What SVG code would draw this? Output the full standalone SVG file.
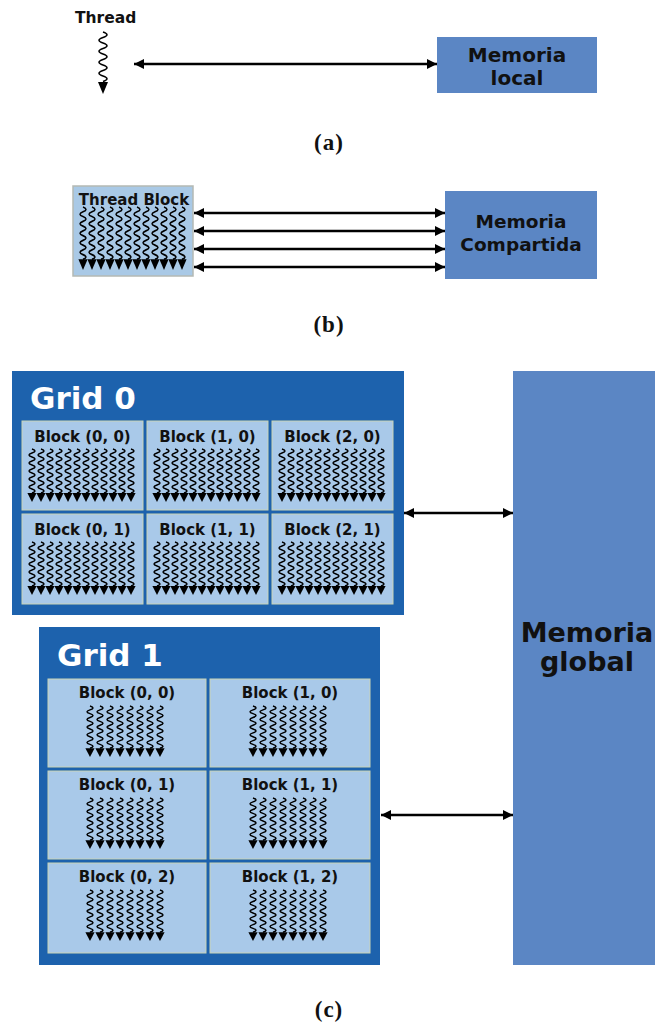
<svg xmlns="http://www.w3.org/2000/svg" xmlns:xlink="http://www.w3.org/1999/xlink" width="659" height="1024" viewBox="0 0 659 1024">
<style>
.lbl{font-family:"DejaVu Sans",Verdana,sans-serif;font-weight:bold;fill:#111;}
.mem{fill:#5b86c4;}
.grid{fill:#1d62ad;}
.blk{fill:#a9c9e9;stroke:#c9d3b6;stroke-width:1;}
.gt{font-family:"DejaVu Sans",Verdana,sans-serif;font-weight:bold;fill:#fff;font-size:31px;}
.cap{font-family:"Liberation Serif","Times New Roman",serif;font-weight:bold;font-size:23px;fill:#111;text-anchor:middle;letter-spacing:1px;}
.conn{stroke:#000;stroke-width:2.4;fill:none;marker-start:url(#ah);marker-end:url(#ah);}
.sq{stroke:#000;stroke-width:1.5;fill:none;}
.bt{font-size:15px;text-anchor:middle;}
</style>
<defs>
<marker id="ah" viewBox="0 0 10 10" refX="10" refY="5" markerWidth="12" markerHeight="10" markerUnits="userSpaceOnUse" orient="auto-start-reverse"><path d="M0,0 L10,5 L0,10 z" fill="#000"/></marker>
<g id="wv">
<path class="sq" d="M0,0 q6,2 0,4 t0,4 t0,4 t0,4 t0,4 t0,4 t0,4 t0,4 t0,4 t0,4 t0,4"/>
<path d="M-4.6,44 h9.2 l-4.6,9 z" fill="#000"/>
</g>
<g id="w12">
<use xlink:href="#wv" x="0"/><use xlink:href="#wv" x="9"/><use xlink:href="#wv" x="18"/><use xlink:href="#wv" x="27"/><use xlink:href="#wv" x="36"/><use xlink:href="#wv" x="45"/><use xlink:href="#wv" x="54"/><use xlink:href="#wv" x="63"/><use xlink:href="#wv" x="72"/><use xlink:href="#wv" x="81"/><use xlink:href="#wv" x="90"/><use xlink:href="#wv" x="99"/>
</g>
<g id="w8">
<use xlink:href="#wv" x="0"/><use xlink:href="#wv" x="10"/><use xlink:href="#wv" x="20"/><use xlink:href="#wv" x="30"/><use xlink:href="#wv" x="40"/><use xlink:href="#wv" x="50"/><use xlink:href="#wv" x="60"/><use xlink:href="#wv" x="70"/>
</g>
</defs>
<rect width="659" height="1024" fill="#fff"/>

<!-- (a) -->
<g id="thread">
<text class="lbl" x="75" y="23" font-size="15.5">Thread</text>
<path class="sq" stroke-width="1.8" d="M103,32 q8,2.75 0,5.5 t0,5.5 t0,5.5 t0,5.5 t0,5.5 t0,5.5 t0,5.5 t0,5.5 t0,5.5"/>
<path d="M98,82 h10 l-5,12 z" fill="#000"/>
</g>
<g id="mem-local">
<rect class="mem" x="437" y="37" width="160" height="56"/>
<text class="lbl" x="517" y="62" font-size="20" text-anchor="middle">Memoria</text>
<text class="lbl" x="517" y="85" font-size="20" text-anchor="middle">local</text>
</g>
<text class="cap" x="329" y="150">(a)</text>

<!-- (b) -->
<g id="thread-block">
<rect x="73" y="186" width="120" height="90" fill="#a9c9e6" stroke="#b4b9b4" stroke-width="1.5"/>
<text class="lbl" x="134" y="205" font-size="15" text-anchor="middle">Thread Block</text>
<use xlink:href="#w12" transform="translate(83,207) scale(1,1.19)"/>
</g>
<g id="mem-compartida">
<rect class="mem" x="445" y="191" width="152" height="88"/>
<text class="lbl" x="521" y="228" font-size="18.5" text-anchor="middle">Memoria</text>
<text class="lbl" x="521" y="251" font-size="18.5" text-anchor="middle">Compartida</text>
</g>
<text class="cap" x="329" y="332">(b)</text>

<!-- (c) Grid 0 -->
<g id="grid0">
<rect class="grid" x="12" y="371" width="392" height="244"/>
<text class="gt" x="30" y="409">Grid 0</text>
<rect class="blk" x="22" y="421" width="121" height="89"/>
<rect class="blk" x="147" y="421" width="121" height="89"/>
<rect class="blk" x="272" y="421" width="121" height="89"/>
<rect class="blk" x="22" y="514" width="121" height="90"/>
<rect class="blk" x="147" y="514" width="121" height="90"/>
<rect class="blk" x="272" y="514" width="121" height="90"/>
<text class="lbl bt" x="82.5" y="442">Block (0, 0)</text>
<text class="lbl bt" x="207.5" y="442">Block (1, 0)</text>
<text class="lbl bt" x="332.5" y="442">Block (2, 0)</text>
<text class="lbl bt" x="82.5" y="535">Block (0, 1)</text>
<text class="lbl bt" x="207.5" y="535">Block (1, 1)</text>
<text class="lbl bt" x="332.5" y="535">Block (2, 1)</text>
<use xlink:href="#w12" x="32" y="449"/>
<use xlink:href="#w12" x="157" y="449"/>
<use xlink:href="#w12" x="282" y="449"/>
<use xlink:href="#w12" x="32" y="542"/>
<use xlink:href="#w12" x="157" y="542"/>
<use xlink:href="#w12" x="282" y="542"/>
</g>

<!-- Grid 1 -->
<g id="grid1">
<rect class="grid" x="39" y="627" width="341" height="338"/>
<text class="gt" x="57" y="666">Grid 1</text>
<rect class="blk" x="48" y="679" width="158" height="88"/>
<rect class="blk" x="210" y="679" width="160" height="88"/>
<rect class="blk" x="48" y="771" width="158" height="88"/>
<rect class="blk" x="210" y="771" width="160" height="88"/>
<rect class="blk" x="48" y="863" width="158" height="90"/>
<rect class="blk" x="210" y="863" width="160" height="90"/>
<text class="lbl bt" x="127" y="698">Block (0, 0)</text>
<text class="lbl bt" x="290" y="698">Block (1, 0)</text>
<text class="lbl bt" x="127" y="790">Block (0, 1)</text>
<text class="lbl bt" x="290" y="790">Block (1, 1)</text>
<text class="lbl bt" x="127" y="882">Block (0, 2)</text>
<text class="lbl bt" x="290" y="882">Block (1, 2)</text>
<use xlink:href="#w8" transform="translate(90,706) scale(1,0.96)"/>
<use xlink:href="#w8" transform="translate(253,706) scale(1,0.96)"/>
<use xlink:href="#w8" transform="translate(90,798) scale(1,0.96)"/>
<use xlink:href="#w8" transform="translate(253,798) scale(1,0.96)"/>
<use xlink:href="#w8" transform="translate(90,890) scale(1,0.96)"/>
<use xlink:href="#w8" transform="translate(253,890) scale(1,0.96)"/>
</g>

<g id="mem-global">
<rect class="mem" x="513" y="371" width="142" height="594"/>
<text class="lbl" x="587" y="642" font-size="27" text-anchor="middle">Memoria</text>
<text class="lbl" x="587" y="671" font-size="27" text-anchor="middle">global</text>
</g>
<text class="cap" x="329" y="1017">(c)</text>

<g id="connectors">
<line class="conn" x1="134" y1="64" x2="437" y2="64"/>
<line class="conn" x1="194" y1="213" x2="445" y2="213"/>
<line class="conn" x1="194" y1="231" x2="445" y2="231"/>
<line class="conn" x1="194" y1="249" x2="445" y2="249"/>
<line class="conn" x1="194" y1="267" x2="445" y2="267"/>
<line class="conn" x1="404" y1="513" x2="513" y2="513"/>
<line class="conn" x1="381" y1="815" x2="513" y2="815"/>
</g>
</svg>
